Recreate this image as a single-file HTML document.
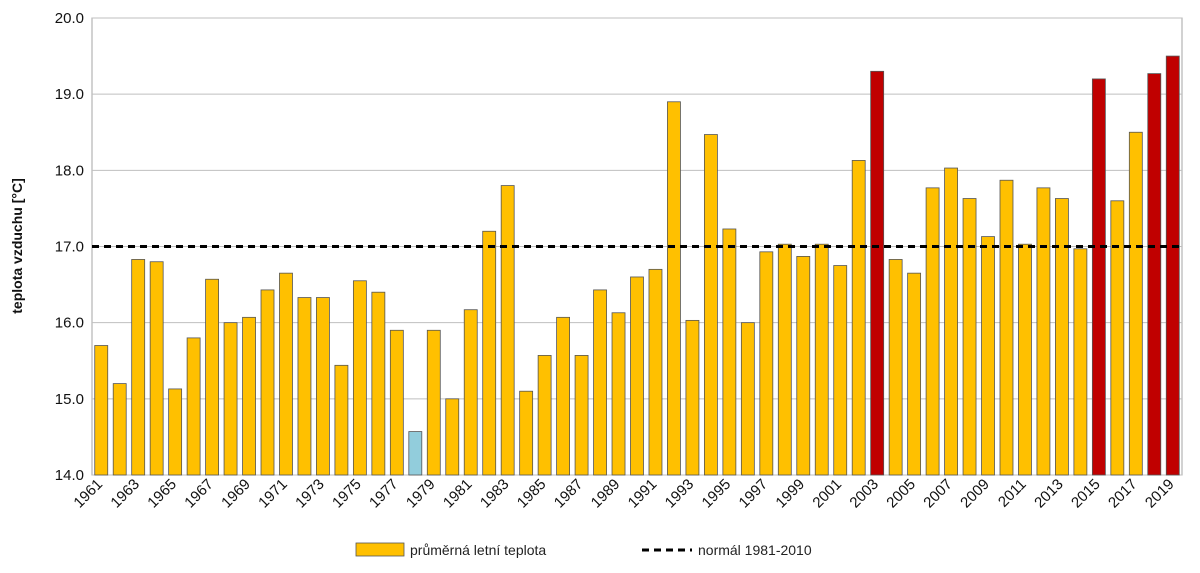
<!DOCTYPE html>
<html><head><meta charset="utf-8">
<style>
html,body{margin:0;padding:0;background:#fff;}
svg{display:block;font-family:"Liberation Sans",sans-serif;}
</style></head>
<body>
<svg id="c" width="1200" height="573" viewBox="0 0 1200 573" xmlns="http://www.w3.org/2000/svg"></svg>
<script>
const v=[15.7,15.2,16.83,16.8,15.13,15.8,16.57,16.0,16.07,16.43,16.65,16.33,16.33,15.44,16.55,16.4,15.9,14.57,15.9,15.0,16.17,17.2,17.8,15.1,15.57,16.07,15.57,16.43,16.13,16.6,16.7,18.9,16.03,18.47,17.23,16.0,16.93,17.03,16.87,17.03,16.75,18.13,19.3,16.83,16.65,17.77,18.03,17.63,17.13,17.87,17.03,17.77,17.63,16.97,19.2,17.6,18.5,19.27,19.5];
const red={2003:1,2015:1,2018:1,2019:1};
const L=92,R=1182,T=18,B=475,y=t=>B-(t-14)*(B-T)/6;
let s='';
s+=`<rect x="${L}" y="${T}" width="${R-L}" height="${B-T}" fill="#fff" stroke="#a6a6a6"/>`;
for(let t=14;t<=20;t++){const yy=y(t);s+=`<line x1="${L}" x2="${R}" y1="${yy}" y2="${yy}" stroke="#bfbfbf"/>`;
s+=`<text x="${L-8}" y="${yy+5}" text-anchor="end" font-size="15" fill="#111">${t.toFixed(1)}</text>`;}
const w=(R-L)/59;
v.forEach((d,i)=>{const yr=1961+i;const x=L+i*w+(w-13)/2;
let c=yr==1978?'#92cddc':(red[yr]?'#c00000':'#ffc000');
s+=`<rect x="${x}" y="${y(d)}" width="13" height="${B-y(d)}" fill="${c}" stroke="#555" stroke-width="0.8"/>`;
if(i%2==0){const cx=L+i*w+w/2+2;s+=`<text transform="translate(${cx},${B+10}) rotate(-45)" text-anchor="end" font-size="15" fill="#111">${yr}</text>`;}
});
s+=`<line x1="${L}" x2="${R}" y1="${y(17)}" y2="${y(17)}" stroke="#000" stroke-width="3" stroke-dasharray="7,5"/>`;
s+=`<text transform="translate(22,246) rotate(-90)" text-anchor="middle" font-size="14" font-weight="bold" fill="#111">teplota vzduchu [°C]</text>`;
s+=`<rect x="356" y="543" width="48" height="13" fill="#ffc000" stroke="#555" stroke-width="0.8"/>`;
s+=`<text x="410" y="555" font-size="14" fill="#222">průměrná letní teplota</text>`;
s+=`<line x1="642" x2="692" y1="550" y2="550" stroke="#000" stroke-width="3" stroke-dasharray="7,5"/>`;
s+=`<text x="698" y="555" font-size="14" fill="#222">normál 1981-2010</text>`;
document.getElementById('c').innerHTML=s;
</script>
</body></html>
